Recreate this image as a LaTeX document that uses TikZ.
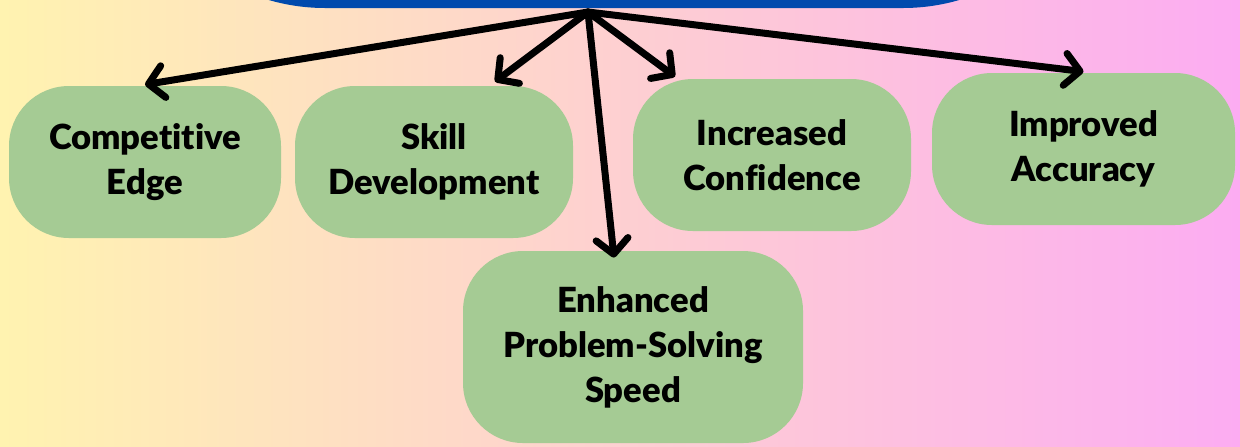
\documentclass[tikz,border=0pt]{standalone}
\usepackage{fontspec}
\setmainfont{Lato}[BoldFont={* Black}, Ligatures=NoCommon]
\usetikzlibrary{arrows.meta}
\definecolor{bgL}{RGB}{255,243,176}
\definecolor{bgR}{RGB}{252,172,242}
\definecolor{boxgreen}{RGB}{165,203,148}
\definecolor{topblue}{RGB}{0,74,173}
\begin{document}
\begin{tikzpicture}[x=0.5pt,y=-0.5pt,
  benefit/.style={fill=boxgreen, rounded corners=30pt, align=center,
    font=\bfseries\fontsize{17.3}{22.5}\selectfont, inner sep=0pt},
  link/.style={line width=3.5pt, line cap=round, line join=round,
    -{Straight Barb[length=7.5pt,width=16pt,round]}}]
\useasboundingbox (0,0) rectangle (1240,446);
\clip (0,0) rectangle (1240,446);
\shade[left color=bgL, right color=bgR] (0,0) rectangle (1240,446);
\fill[topblue, rounded corners=100pt] (125,-400) rectangle (1103,8);
\coordinate (hub) at (588,12);
\node[benefit, minimum width=136pt, minimum height=76pt] (b1) at (145,162) {Competitive\\Edge};
\node[benefit, minimum width=139pt, minimum height=76pt] (b2) at (434,162) {Skill\\Development};
\node[benefit, minimum width=139pt, minimum height=76pt] (b3) at (772,155) {Increased\\Confidence};
\node[benefit, minimum width=151.5pt, minimum height=76pt] (b4) at (1083.5,149) {Improved\\Accuracy};
\node[benefit, minimum width=170pt, minimum height=96pt] (b5) at (633,347) {Enhanced\\Problem-Solving\\Speed};
\draw[link] (hub) -- ([yshift=0.5pt]b1.north);
\draw[link] (hub) -- ([xshift=30.5pt,yshift=2pt]b2.north);
\draw[link] (hub) -- ([xshift=-48.5pt,yshift=1pt]b3.north);
\draw[link] (hub) -- ([yshift=0.5pt]b4.north);
\draw[link] (hub) -- ([xshift=-9.5pt,yshift=-3.5pt]b5.north);
\end{tikzpicture}
\end{document}
